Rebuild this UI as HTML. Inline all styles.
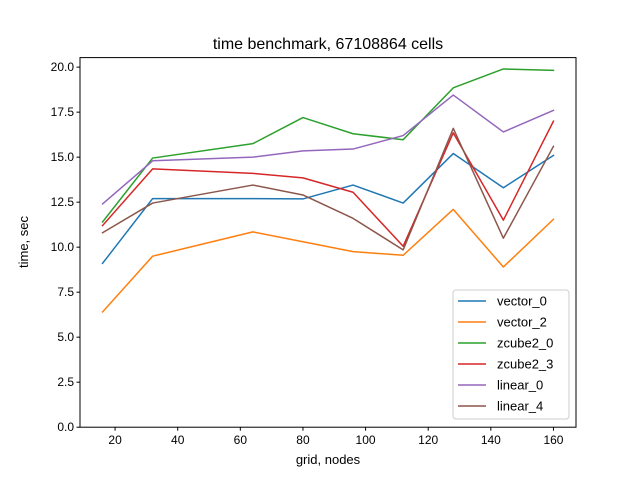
<!DOCTYPE html>
<html><head><meta charset="utf-8"><style>
body{margin:0;background:#fff;}
svg{display:block;font-family:"Liberation Sans","DejaVu Sans",sans-serif;}
</style></head><body>
<svg id="chart" width="640" height="480" viewBox="0 0 640 480">
<rect width="640" height="480" fill="#fff"/>
<text x="328" y="49" font-size="16" text-anchor="middle">time benchmark, 67108864 cells</text>
<g id="marks"></g>
<rect x="80" y="57.6" width="496" height="369.6" fill="none" stroke="#000" stroke-width="1"/>
<g id="ticks"></g>
<text x="328" y="464" font-size="13" text-anchor="middle">grid, nodes</text>
<text x="28" y="242" font-size="13" text-anchor="middle" transform="rotate(-90 28 242)">time, sec</text>
<g id="legend"></g>
</svg>
<script>
const categories=[16,32,64,80,96,112,128,144,160];
const seriesNames=["vector_0","vector_2","zcube2_0","zcube2_3","linear_0","linear_4"];
const vector_0=[9.1,12.7,12.7,12.68,13.45,12.45,15.2,13.3,15.1];
const vector_2=[6.4,9.5,10.85,10.3,9.75,9.55,12.1,8.9,11.55];
const zcube2_0=[11.4,14.95,15.75,17.2,16.3,15.97,18.85,19.9,19.82];
const zcube2_3=[11.2,14.35,14.1,13.85,13.05,10.05,16.35,11.5,17.0];
const linear_0=[12.4,14.8,15.0,15.35,15.45,16.2,18.45,16.4,17.6];
const linear_4=[10.8,12.45,13.45,12.9,11.6,9.85,16.6,10.5,15.6];
const xTicks=[20,40,60,80,100,120,140,160];
const yTicks=[0,2.5,5,7.5,10,12.5,15,17.5,20];
const yTickLabels=["0.0","2.5","5.0","7.5","10.0","12.5","15.0","17.5","20.0"];
const colors=["#1f77b4","#ff7f0e","#2ca02c","#d62728","#9467bd","#8c564b"];
const allSeries=[vector_0,vector_2,zcube2_0,zcube2_3,linear_0,linear_4];
const NS="http://www.w3.org/2000/svg";
const L=80,R=576,T=57.6,B=427.2,xmin=8.8,xmax=167.2,ymin=0,ymax=20.53;
const X=v=>L+(v-xmin)/(xmax-xmin)*(R-L);
const Y=v=>B-(v-ymin)/(ymax-ymin)*(B-T);
function mk(tag,attrs,parent){const e=document.createElementNS(NS,tag);for(const k in attrs)e.setAttribute(k,attrs[k]);parent.appendChild(e);return e;}
const marks=document.getElementById('marks');
allSeries.forEach((s,i)=>{
 const p=mk('polyline',{points:s.map((v,j)=>X(categories[j])+','+Y(v)).join(' '),fill:'none',stroke:colors[i],'stroke-width':1.5,'stroke-linejoin':'round','stroke-linecap':'square'},marks);
 
 
});
const ticks=document.getElementById('ticks');
xTicks.forEach(t=>{
 const l=mk('line',{x1:X(t),x2:X(t),y1:B,y2:B+3.5,stroke:'#000'},ticks);
 
 
 const tx=mk('text',{x:X(t),y:B+17,'font-size':12,'text-anchor':'middle'},ticks);tx.textContent=t;
 
 
});
yTicks.forEach((t,i)=>{
 const l=mk('line',{x1:L-3.5,x2:L,y1:Y(t),y2:Y(t),stroke:'#000'},ticks);
 
 
 const tx=mk('text',{x:L-6,y:Y(t)+4,'font-size':12,'text-anchor':'end'},ticks);tx.textContent=yTickLabels[i];
 
 
});
const lg=document.getElementById('legend');
const box=mk('rect',{x:453,y:290,width:116,height:129,rx:3,fill:'#fff','fill-opacity':0.8,stroke:'#ccc'},lg);


seriesNames.forEach((n,i)=>{
 const y=301+i*21;
 const g=mk('g',{},lg);
 
 
 mk('line',{x1:458,x2:486,y1:y,y2:y,stroke:colors[i],'stroke-width':1.5},g);
 const t=mk('text',{x:497,y:y+4.5,'font-size':13},g);t.textContent=n;
});
</script>
</body></html>
